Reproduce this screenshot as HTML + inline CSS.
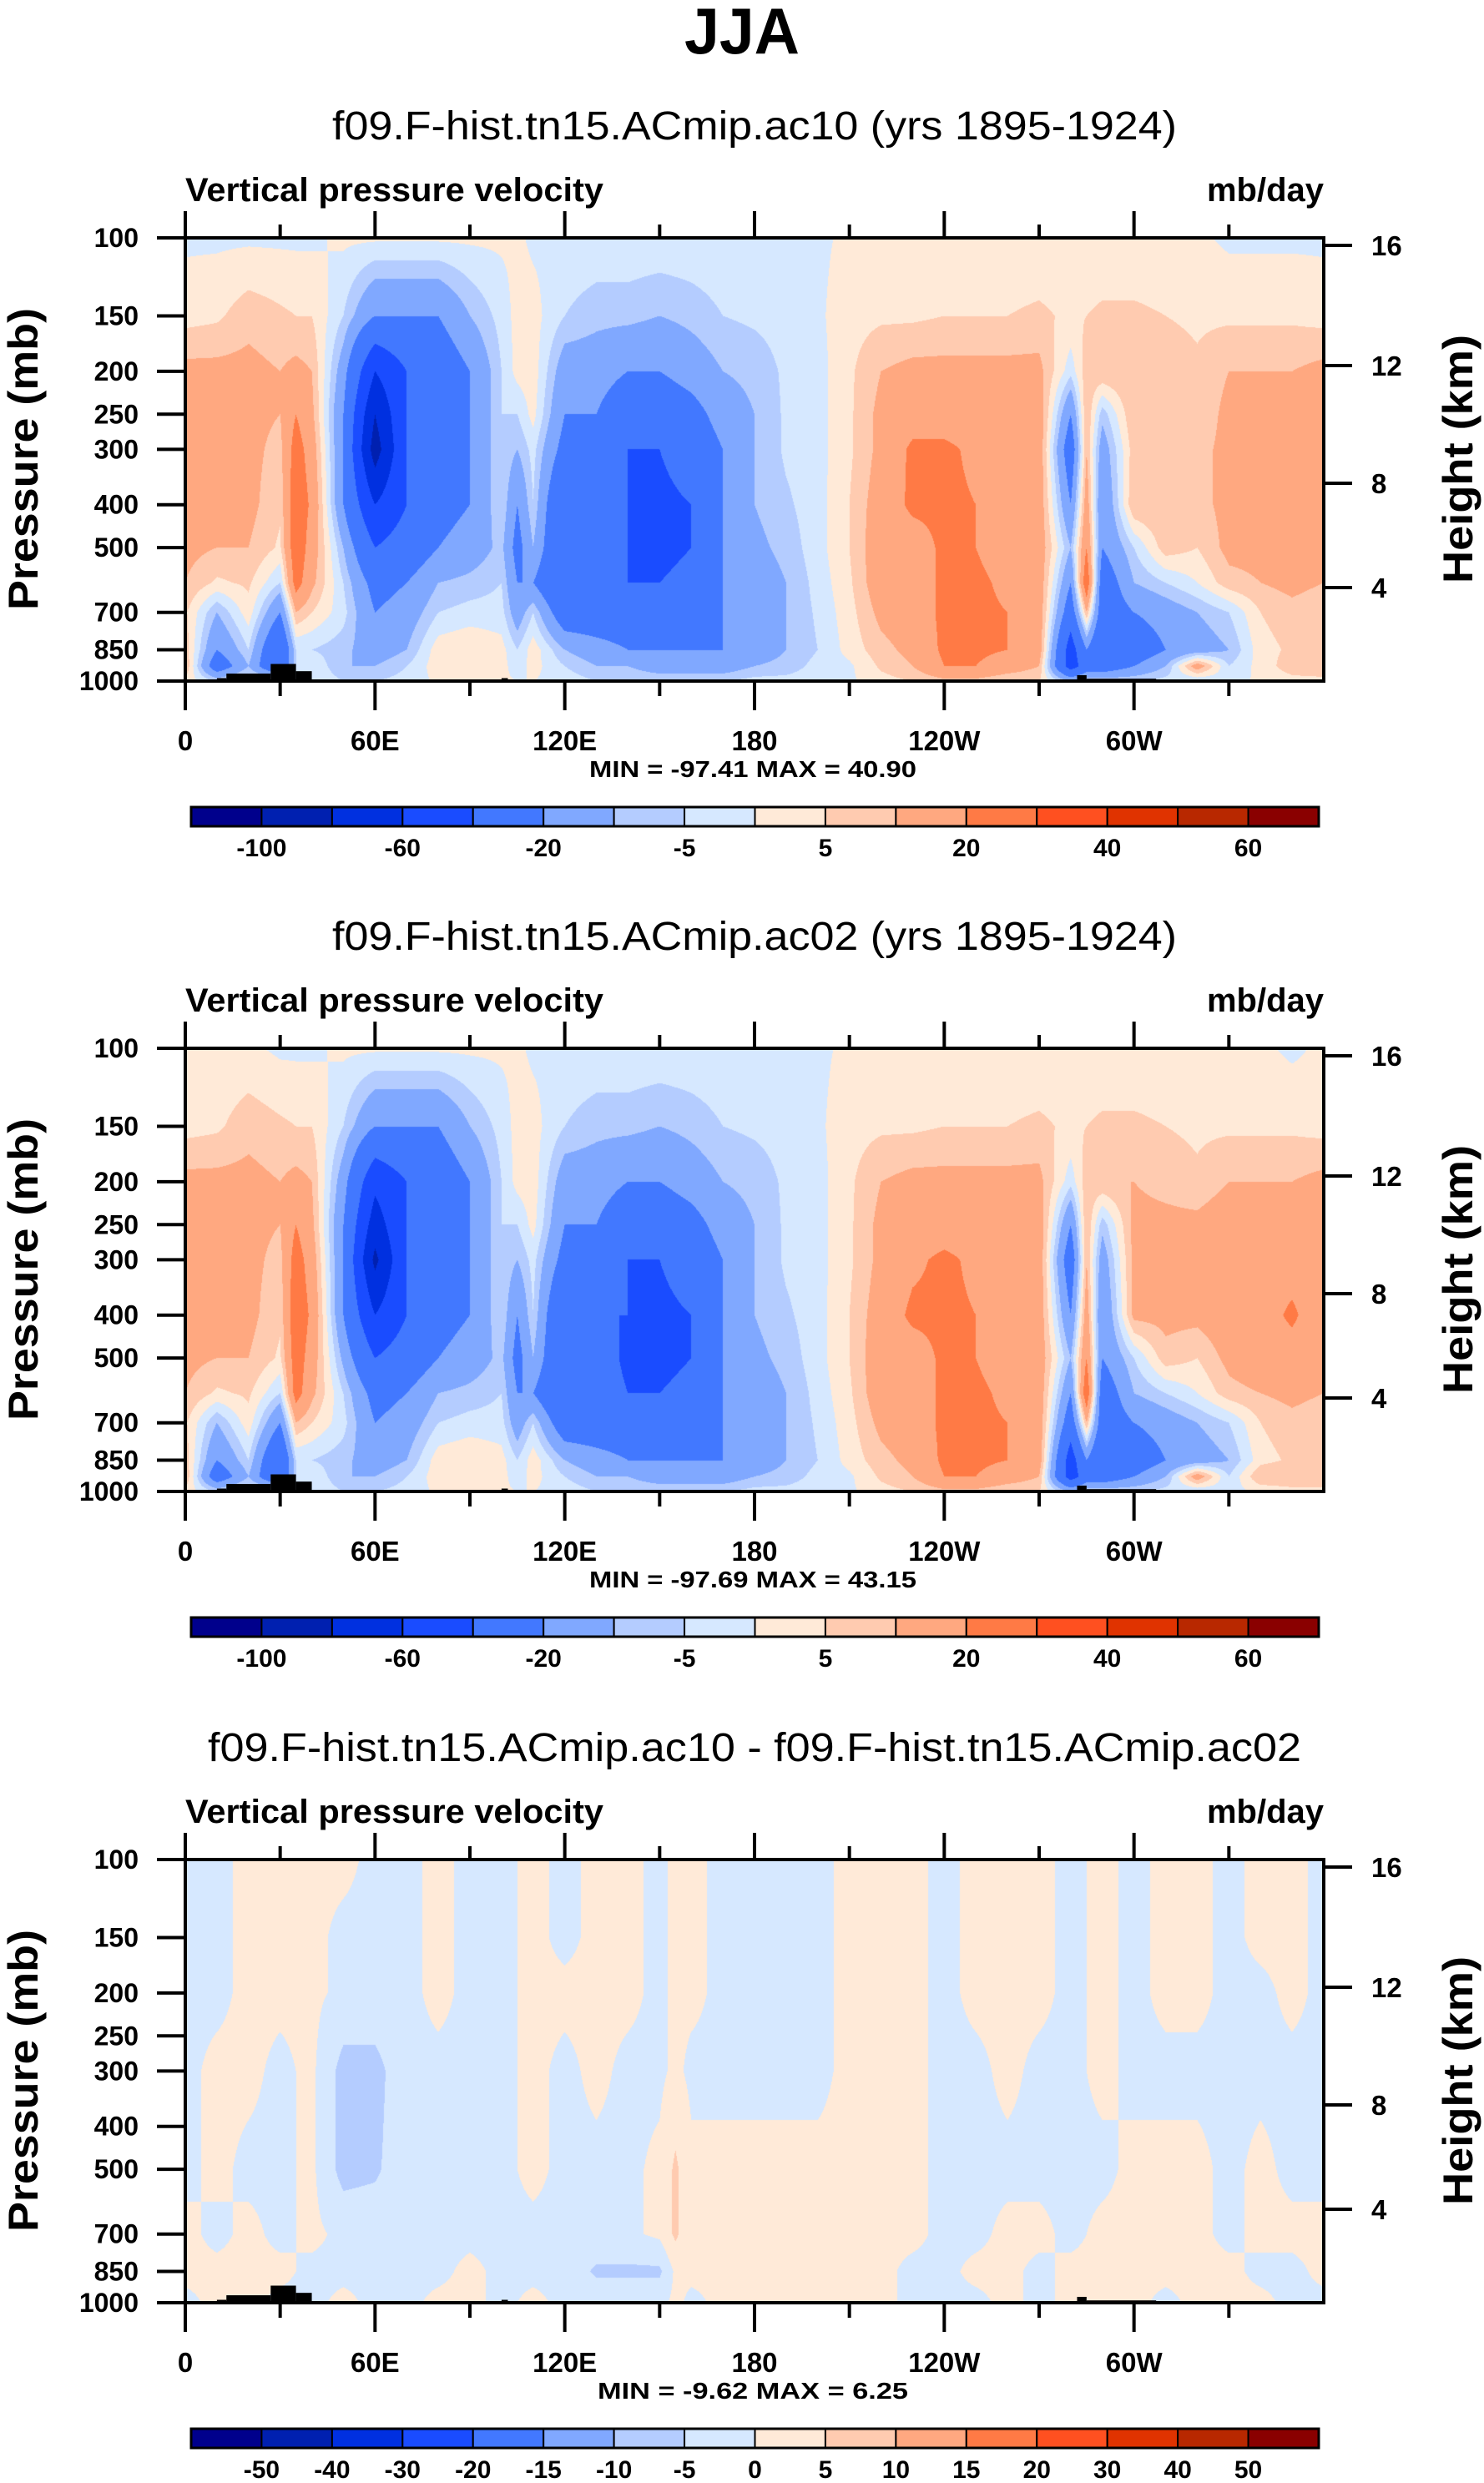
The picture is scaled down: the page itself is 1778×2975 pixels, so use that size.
<!DOCTYPE html>
<html><head><meta charset="utf-8">
<style>
html,body{margin:0;padding:0;background:#fff;}
#wrap{position:relative;width:1778px;height:2975px;overflow:hidden;background:#fff;}
canvas{position:absolute;}
svg{position:absolute;left:0;top:0;}
</style></head>
<body>
<div id="wrap">
<canvas id="c1" width="1364" height="531" style="left:222px;top:285px"></canvas>
<canvas id="c2" width="1364" height="531" style="left:222px;top:1256px"></canvas>
<canvas id="c3" width="1364" height="531" style="left:222px;top:2228px"></canvas>
<svg id="ov" width="1778" height="2975"></svg>
</div>
<script>
// ---------- data ----------
const plevs = [100,150,200,250,300,400,500,600,700,850,925,1000];
const lons = [0,10,20,30,35,40,50,60,70,80,90,100,105,110,120,130,140,150,160,170,180,190,200,210,220,230,240,250,260,270,280,285,290,300,310,320,330,340,350];
const omega1 = [
[-1,3,12,12,12,12,12,10,6,8,10,3],
[-1,4,12,12,14,12,10,4,-10,-20,-30,-5],
[-1,8,12,12,12,12,10,6,3,-5,-10,0],
[-1,6,10,10,8,6,4,-5,-20,-40,-40,0],
[-1,5,12,20,25,28,28,25,10,-5,-5,0],
[-1,5,10,12,15,18,15,12,5,-5,0,0],
[1,-5,-15,-20,-20,-20,-10,-5,-3,-8,-10,-5],
[1,-20,-60,-80,-90,-60,-40,-25,-20,-15,-10,-5],
[1,-20,-40,-40,-40,-40,-30,-20,-15,-10,-5,-3],
[1,-20,-30,-30,-30,-25,-20,-10,-5,3,3,1],
[1,-10,-20,-20,-20,-20,-15,-8,-3,5,3,1],
[1,-3,-5,-5,-5,-5,-8,-5,-3,2,2,1],
[1,2,2,-5,-10,-20,-25,-20,-15,-5,-3,0],
[-1,2,3,2,-3,-5,-10,-20,-5,3,2,0],
[-1,-5,-15,-20,-25,-40,-40,-40,-30,-10,-5,-2],
[-1,-8,-15,-20,-30,-40,-35,-35,-30,-15,-10,-5],
[-1,-8,-20,-30,-40,-40,-40,-40,-30,-20,-10,-5],
[-1,-10,-20,-30,-40,-45,-45,-40,-30,-20,-15,-5],
[-1,-8,-15,-25,-30,-40,-40,-35,-30,-20,-15,-5],
[-1,-5,-10,-15,-20,-20,-20,-20,-20,-20,-15,-5],
[-1,-4,-8,-10,-10,-10,-12,-15,-15,-15,-10,-3],
[-1,-3,-4,-4,-4,-6,-8,-10,-10,-10,-8,-3],
[-1,-1,-2,-2,-2,-2,-2,-3,-4,-5,-3,-2],
[1,3,4,4,4,5,5,4,3,2,-1,-1],
[1,4,10,12,12,14,15,15,12,8,6,3],
[1,4,12,15,22,22,15,15,15,12,10,5],
[1,5,12,15,22,22,22,22,22,22,20,8],
[1,5,12,15,18,20,20,22,22,22,20,8],
[1,5,12,15,15,15,15,18,20,20,15,5],
[1,6,12,15,15,15,15,15,15,15,10,5],
[1,4,-3,-20,-30,-20,-10,-20,-30,-50,-50,-10],
[1,5,8,10,10,15,20,30,10,-20,-30,-5],
[1,6,10,-8,-15,-20,-20,-30,-30,-40,-30,-5],
[1,6,10,10,8,10,-5,-10,-20,-30,-20,-5],
[1,5,8,8,10,10,8,-5,-15,-20,-10,-3],
[1,4,6,6,8,8,5,0,-10,-15,15,-5],
[-1,4,10,12,12,12,12,8,-5,-10,-5,-2],
[-1,4,10,12,12,12,12,10,5,3,2,1],
[-1,4,10,12,12,12,12,12,8,6,8,3]];
const omega2 = [
[1,3,12,12,12,12,12,10,6,8,10,3],
[1,4,12,12,14,12,10,4,-10,-20,-30,-5],
[1,8,12,12,12,12,10,6,3,-5,-10,0],
[-1,6,10,10,8,6,4,-5,-20,-40,-40,0],
[-1,5,12,20,25,28,26,25,10,-5,-5,0],
[-1,5,10,12,15,18,15,12,5,-5,0,0],
[1,-5,-15,-20,-20,-20,-12,-5,-3,-8,-10,-5],
[1,-20,-55,-70,-85,-60,-40,-25,-20,-15,-10,-5],
[1,-20,-40,-40,-40,-40,-30,-20,-15,-10,-5,-3],
[1,-20,-30,-30,-30,-25,-20,-10,-5,3,3,1],
[1,-10,-20,-20,-20,-20,-15,-8,-3,5,3,1],
[1,-3,-5,-5,-5,-5,-8,-5,-3,2,2,1],
[1,2,2,-5,-10,-20,-25,-20,-15,-5,-3,0],
[-1,2,3,2,-3,-5,-10,-20,-5,3,2,0],
[-1,-5,-15,-20,-25,-40,-40,-40,-30,-10,-5,-2],
[-1,-8,-15,-20,-30,-40,-35,-35,-30,-15,-10,-5],
[-1,-8,-20,-30,-40,-40,-42,-40,-30,-20,-10,-5],
[-1,-10,-20,-30,-40,-45,-45,-40,-30,-20,-15,-5],
[-1,-8,-15,-25,-30,-40,-40,-35,-30,-20,-15,-5],
[-1,-5,-10,-15,-20,-20,-20,-20,-20,-20,-15,-5],
[-1,-4,-8,-10,-10,-10,-12,-15,-15,-15,-10,-3],
[-1,-3,-4,-4,-4,-6,-8,-10,-10,-10,-8,-3],
[-1,-1,-2,-2,-2,-2,-2,-3,-4,-5,-3,-2],
[1,3,4,4,4,5,5,4,3,2,-1,-1],
[1,4,10,12,12,14,15,15,12,8,6,3],
[1,4,12,15,18,22,15,15,15,12,10,5],
[1,5,12,15,22,22,22,22,22,22,20,8],
[1,5,12,15,18,20,20,22,22,22,20,8],
[1,5,12,15,15,15,15,18,20,20,15,5],
[1,6,12,15,15,15,15,15,15,15,10,5],
[1,4,-3,-20,-30,-20,-10,-20,-30,-50,-50,-10],
[1,5,8,10,10,15,20,30,10,-20,-30,-5],
[1,6,10,-8,-15,-20,-20,-30,-30,-40,-30,-5],
[1,6,10,12,12,12,-5,-10,-20,-30,-20,-5],
[1,5,8,12,12,12,8,-5,-15,-20,-10,-3],
[1,4,6,12,12,12,5,0,-10,-15,15,-5],
[1,4,10,15,15,15,12,8,-5,-10,-5,-2],
[1,4,10,15,15,15,15,10,5,3,10,1],
[-1,4,10,15,15,22,15,12,8,6,10,3]];
const dlevs = [100,150,200,300,500,700,850,1000];
const dlons = [0,10,20,30,40,50,60,70,80,90,100,110,120,130,140,150,155,160,170,180,190,200,210,220,230,240,250,260,270,280,290,300,310,320,330,340,350];
const omegaDiff = [
[-1,-1,-1,-1,-1,1,1,-1],[-1,-1,-1,1,1,-1,1,1],[1,1,1,1,-1,1,1,1],[1,1,1,-1,-1,-1,1,-1],
[1,1,1,1,1,1,-1,-1],[1,-1,-1,-7,-7,-1,-1,1],[-1,-1,-1,-7,-6,-1,-1,-1],[-1,-1,-1,-1,-1,-1,-1,-1],
[1,1,1,-1,-1,-1,-1,1],[-1,-1,-1,-1,-1,-1,1,1],[-1,-1,-1,-1,-1,-1,-1,-1],[1,1,1,1,1,-1,-1,1],
[-1,-1,1,-1,-1,-1,-1,-1],[1,1,1,1,-1,-1,-6,-1],[1,1,1,-1,-1,-1,-6,-1],[-1,-1,-1,-1,1,1,-6,-1],
[1,1,1,1,6,6,1,1],[1,1,1,-1,1,1,1,-1],[-1,-1,-1,-1,1,1,1,1],[-1,-1,-1,-1,1,1,1,1],
[-1,-1,-1,-1,1,1,1,1],[-1,-1,-1,-1,1,1,1,1],[1,1,1,1,1,1,1,1],[1,1,1,1,1,1,1,1],
[1,1,1,1,1,1,-1,-1],[-1,-1,-1,-1,-1,-1,-1,-1],[1,1,1,-1,-1,-1,1,-1],[1,1,1,1,-1,1,1,1],
[1,1,1,-1,-1,1,-1,-1],[-1,-1,-1,-1,-1,-1,1,1],[1,1,1,1,-1,1,1,1],[-1,-1,-1,-1,1,1,1,1],
[1,1,1,-1,1,1,1,-1],[1,1,1,-1,1,1,1,1],[-1,-1,-1,-1,-1,-1,1,1],[1,1,-1,-1,1,1,-1,1],[1,1,1,-1,-1,1,-1,-1]];
const levelsMain = [-100,-80,-60,-40,-20,-10,-5,0,5,10,20,30,40,50,60];
const labelsMain = ["-100","","-60","","-20","","-5","","5","","20","","40","","60"];
const levelsDiff = [-50,-40,-30,-20,-15,-10,-5,0,5,10,15,20,30,40,50];
const labelsDiff = ["-50","-40","-30","-20","-15","-10","-5","0","5","10","15","20","30","40","50"];
const colors = ["#00008c","#0020b0","#0030e0","#1a4cff","#4278ff","#80a8ff","#b4ccff","#d6e8ff","#ffead8","#ffcbb0","#ffa880","#ff7a45","#ff5020","#e03300","#b82800","#8a0000"];
const topoLon0 = [10,13,27,35,100,282,285];
const topoLon1 = [13,27,35,40,102,285,307];
const topoP = [985,962,915,950,985,970,988];
const pTicks = [100,150,200,250,300,400,500,700,850,1000];
const hTicks = [16,12,8,4];
const hTickY = [9,153,294,419];
const lonTicks = [0,60,120,180,240,300];
const lonLabels = ["0","60E","120E","180","120W","60W"];
const panelTitles = ["f09.F-hist.tn15.ACmip.ac10 (yrs 1895-1924)","f09.F-hist.tn15.ACmip.ac02 (yrs 1895-1924)","f09.F-hist.tn15.ACmip.ac10 - f09.F-hist.tn15.ACmip.ac02"];
const minmax = ["MIN = -97.41  MAX =  40.90","MIN = -97.69  MAX =  43.15","MIN = -9.62  MAX =  6.25"];

// ---------- geometry ----------
const PX=222, PW=1364, PH=531, TOP0=285;
const offs=[0,971,1943];
const xOf = lon => PX + lon/360*PW;
const yOf = (p,o) => TOP0+o + Math.log10(p/100)*PH;

function interp(L, P, V, lon, p){
  const LL=L.concat([360]); const VV=V.concat([V[0]]);
  let i=0; while(i<LL.length-2 && lon>LL[i+1]) i++;
  const tx=(lon-LL[i])/(LL[i+1]-LL[i]);
  const lp=Math.log(p); let j=0;
  while(j<P.length-2 && lp>Math.log(P[j+1])) j++;
  const ty=Math.min(1,Math.max(0,(lp-Math.log(P[j]))/(Math.log(P[j+1])-Math.log(P[j]))));
  const a=VV[i][j]*(1-ty)+VV[i][j+1]*ty, b=VV[i+1][j]*(1-ty)+VV[i+1][j+1]*ty;
  return a*(1-tx)+b*tx;
}
function hex(c){return [parseInt(c.slice(1,3),16),parseInt(c.slice(3,5),16),parseInt(c.slice(5,7),16)];}
const rgb=colors.map(hex);
function draw(id,L,P,V,levels){
  const cv=document.getElementById(id), ctx=cv.getContext('2d');
  const img=ctx.createImageData(PW,PH);
  for(let y=0;y<PH;y++){
    const p=100*Math.pow(10,(y+0.5)/PH);
    for(let x=0;x<PW;x++){
      const v=interp(L,P,V,(x+0.5)/PW*360,p);
      let k=0; while(k<levels.length && v>=levels[k]) k++;
      const c=rgb[k], o=(y*PW+x)*4;
      img.data[o]=c[0];img.data[o+1]=c[1];img.data[o+2]=c[2];img.data[o+3]=255;
    }
  }
  ctx.putImageData(img,0,0);
}
draw('c1',lons,plevs,omega1,levelsMain);
draw('c2',lons,plevs,omega2,levelsMain);
draw('c3',dlons,dlevs,omegaDiff,levelsDiff);

// ---------- overlay ----------
const NS='http://www.w3.org/2000/svg', svg=document.getElementById('ov');
function el(tag,attrs,parent){const e=document.createElementNS(NS,tag);for(const k in attrs)e.setAttribute(k,attrs[k]);(parent||svg).appendChild(e);return e;}
function txt(s,attrs,parent){const e=el('text',Object.assign({'font-family':'Liberation Sans, sans-serif',fill:'#000'},attrs),parent);e.textContent=s;return e;}

const t0=txt('JJA',{x:889,y:64,'font-size':78,'font-weight':'bold','text-anchor':'middle',textLength:138,lengthAdjust:'spacingAndGlyphs'});



offs.forEach((o,pi)=>{
  const g=el('g',{});
  
  
  const st=txt(panelTitles[pi],{x:904,y:167+o,'font-size':48,'text-anchor':'middle',textLength:pi==2?1310:1012,lengthAdjust:'spacingAndGlyphs'},g);
  
  
  const vl=txt('Vertical pressure velocity',{x:222,y:241+o,'font-size':40,'font-weight':'bold',textLength:501,lengthAdjust:'spacingAndGlyphs'},g);
  
  
  const un=txt('mb/day',{x:1586,y:241+o,'font-size':40,'font-weight':'bold','text-anchor':'end',textLength:140,lengthAdjust:'spacingAndGlyphs'},g);
  
  
  // topography
  for(let i=0;i<topoP.length;i++){
    const r=el('rect',{x:xOf(topoLon0[i]),y:yOf(topoP[i],o),width:xOf(topoLon1[i])-xOf(topoLon0[i]),height:yOf(1000,o)-yOf(topoP[i],o),fill:'#000'},g);
    
    
  }
  // frame
  const fr=el('rect',{x:PX,y:TOP0+o,width:PW,height:PH,fill:'none',stroke:'#000','stroke-width':4},g);
  
  
  // lon ticks
  for(let lon=0;lon<360;lon+=30){
    const major=lon%60==0, x=xOf(lon);
    const tt=el('line',{x1:x,x2:x,y1:TOP0+o,y2:TOP0+o-(major?32:16),stroke:'#000','stroke-width':4},g);
    
    
    const tb=el('line',{x1:x,x2:x,y1:TOP0+o+PH,y2:TOP0+o+PH+(major?35:18),stroke:'#000','stroke-width':4},g);
    
    
  }
  lonTicks.forEach((lon,i)=>{
    const l=txt(lonLabels[i],{x:xOf(lon),y:899+o,'font-size':33,'font-weight':'bold','text-anchor':'middle'},g);
    
    
  });
  pTicks.forEach(p=>{
    const y=yOf(p,o);
    const tl=el('line',{x1:PX-34,x2:PX,y1:y,y2:y,stroke:'#000','stroke-width':4},g);
    
    
    const lb=txt(String(p),{x:166,y:y+11,'font-size':32,'font-weight':'bold','text-anchor':'end'},g);
    
    
  });
  hTicks.forEach((h,i)=>{
    const y=TOP0+o+hTickY[i];
    const tl=el('line',{x1:PX+PW,x2:PX+PW+34,y1:y,y2:y,stroke:'#000','stroke-width':4},g);
    
    
    const lb=txt(String(h),{x:1643,y:y+12,'font-size':33,'font-weight':'bold'},g);
    
    
  });
  const ya=txt('Pressure (mb)',{x:0,y:0,'font-size':50,'font-weight':'bold','text-anchor':'middle',textLength:362,lengthAdjust:'spacingAndGlyphs',transform:`translate(45,${550+o}) rotate(-90)`},g);
  
  
  const ha=txt('Height (km)',{x:0,y:0,'font-size':50,'font-weight':'bold','text-anchor':'middle',textLength:298,lengthAdjust:'spacingAndGlyphs',transform:`translate(1764,${550+o}) rotate(-90)`},g);
  
  
  const mm=txt(minmax[pi],{x:902,y:931+o,'font-size':28,'font-weight':'bold','text-anchor':'middle',textLength:pi==2?372:392,lengthAdjust:'spacingAndGlyphs'},g);
  
  
  // colorbar
  const cbX=229, cbW=1351, cbY=967+o, cbH=23, bw=cbW/16;
  const labs = pi==2?labelsDiff:labelsMain;
  for(let k=0;k<16;k++){
    const b=el('rect',{x:cbX+k*bw,y:cbY,width:bw,height:cbH,fill:colors[k],stroke:'#000','stroke-width':2},g);
    
    
  }
  const cbf=el('rect',{x:cbX,y:cbY,width:cbW,height:cbH,fill:'none',stroke:'#000','stroke-width':3},g);
  
  
  labs.forEach((s,k)=>{
    if(!s) return;
    const l=txt(s,{x:cbX+(k+1)*bw,y:1026+o,'font-size':30,'font-weight':'bold','text-anchor':'middle'},g);
    
    
  });
});
</script>
</body></html>
